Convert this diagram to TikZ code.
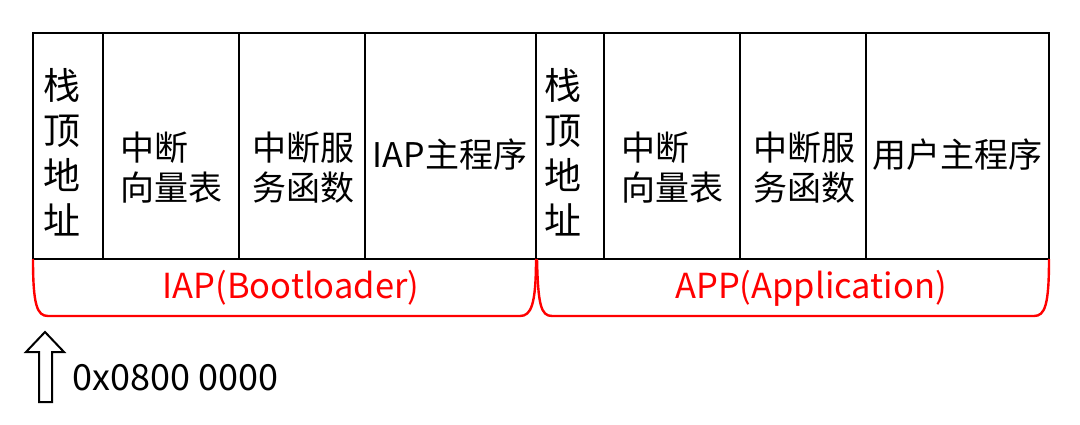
\documentclass[tikz,border=0pt]{standalone}
\usepackage{fontspec}
\setmainfont{Noto Sans CJK SC}
\begin{document}
\begin{tikzpicture}[x=1pt,y=-1pt,
  cell/.style={draw=black, line width=2.8pt, inner sep=0pt, outer sep=0pt, minimum height=226pt, anchor=north west},
  vtxt/.style={font=\fontsize{37}{45}\selectfont, align=center, inner sep=0pt},
  txt/.style={font=\fontsize{34}{40}\selectfont, align=left, inner sep=0pt},
  redlbl/.style={font=\fontsize{34.5}{40}\selectfont, text=red, inner sep=0pt},
  brace/.style={draw=red, line width=2.4pt},
  addr/.style={font=\fontsize{36}{40}\selectfont, inner sep=0pt, anchor=west}]
\useasboundingbox (0,0) rectangle (1080,425);
% cells
\node[cell, minimum width=70pt]  (c1) at (33,33) {};
\node[cell, minimum width=136pt] (c2) at (103,33) {};
\node[cell, minimum width=126pt] (c3) at (239,33) {};
\node[cell, minimum width=171pt] (c4) at (365,33) {};
\node[cell, minimum width=68pt]  (c5) at (536,33) {};
\node[cell, minimum width=136pt] (c6) at (604,33) {};
\node[cell, minimum width=126pt] (c7) at (740,33) {};
\node[cell, minimum width=183pt] (c8) at (866,33) {};
% texts
\node[vtxt] (t1) at (62,152) {栈\\顶\\地\\址};
\node[txt]  (t2) at (171,168) {中断\\向量表};
\node[txt]  (t3) at (303,168) {中断服\\务函数};
\node[txt]  (t4) at (450,155) {IAP主程序};
\node[vtxt] (t5) at (563,152) {栈\\顶\\地\\址};
\node[txt]  (t6) at (672,168) {中断\\向量表};
\node[txt]  (t7) at (804,168) {中断服\\务函数};
\node[txt]  (t8) at (957,155) {用户主程序};
% braces
\coordinate (b1s) at (c1.south west);
\coordinate (b1e) at (c4.south east);
\coordinate (b2s) at (c5.south west);
\coordinate (b2e) at (c8.south east);
\draw[brace] (b1s) .. controls (33,305) and (37,316) .. (48,316) -- (520,316) .. controls (531,316) and (536,305) .. (b1e);
\draw[brace] ([xshift=1pt]b2s) .. controls (538,305) and (541,316) .. (552,316) -- (1034,316) .. controls (1045,316) and (1049,305) .. (b2e);
\node[redlbl] (l1) at (291,288) {IAP(Bootloader)};
\node[redlbl] (l2) at (811,288) {APP(Application)};
% arrow and address
\coordinate (ar) at (45,332);
\draw[line width=2pt, line join=miter] (ar) -- (64,352) -- (52,352) -- (52,402) -- (39,402) -- (39,352) -- (26,352) -- cycle;
\node[addr] (a1) at (72,378) {0x0800 0000};
\end{tikzpicture}
\end{document}
